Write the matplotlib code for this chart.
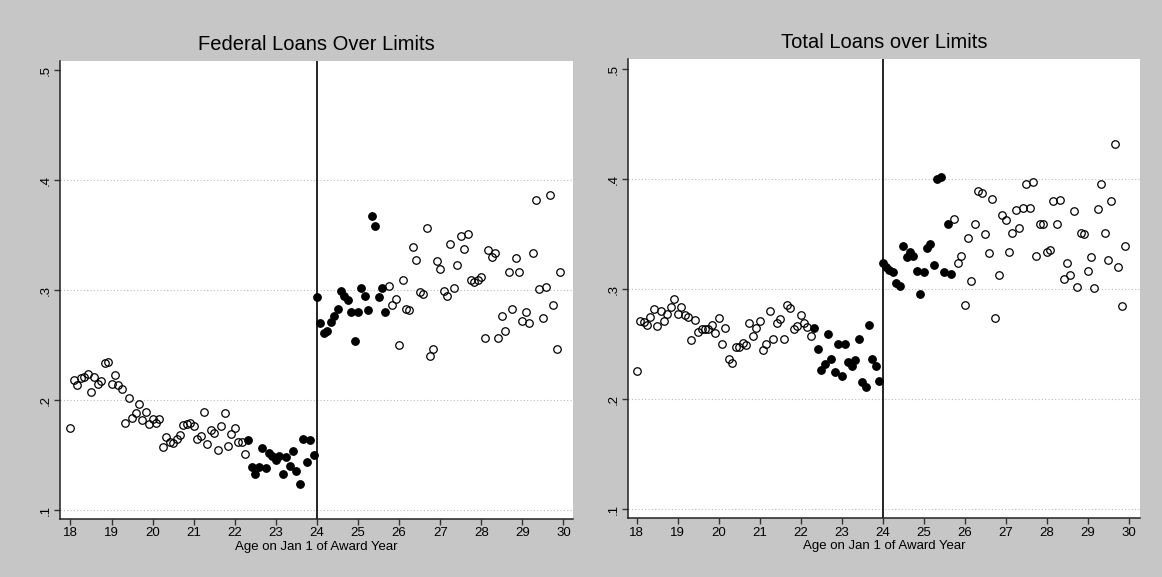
import numpy as np
import matplotlib.pyplot as plt

plt.rcParams['font.family'] = ['Liberation Sans', 'DejaVu Sans']

# monthly age bins, 18 to 30
ages = np.arange(144) / 12 + 18
cutoff = 24
window = (22.3, 25.7)   # bins inside the bandwidth are drawn solid

federal_share = [
    0.175, 0.218, 0.214, 0.220, 0.221, 0.224, 0.207, 0.221, 0.215, 0.217,
    0.234, 0.235, 0.215, 0.223, 0.214, 0.210, 0.179, 0.202, 0.184, 0.188,
    0.196, 0.182, 0.189, 0.178, 0.183, 0.179, 0.183, 0.157, 0.166, 0.162,
    0.161, 0.165, 0.168, 0.177, 0.178, 0.179, 0.176, 0.165, 0.167, 0.189,
    0.160, 0.173, 0.170, 0.155, 0.176, 0.188, 0.158, 0.169, 0.175, 0.162,
    0.162, 0.151, 0.164, 0.139, 0.133, 0.139, 0.156, 0.138, 0.152, 0.149,
    0.145, 0.149, 0.133, 0.148, 0.140, 0.154, 0.135, 0.124, 0.165, 0.144,
    0.164, 0.150, 0.294, 0.270, 0.261, 0.263, 0.271, 0.276, 0.283, 0.299,
    0.295, 0.291, 0.280, 0.254, 0.280, 0.302, 0.295, 0.282, 0.367, 0.358,
    0.294, 0.302, 0.280, 0.304, 0.286, 0.292, 0.250, 0.309, 0.283, 0.282,
    0.339, 0.327, 0.298, 0.296, 0.356, 0.240, 0.246, 0.326, 0.319, 0.299,
    0.295, 0.342, 0.302, 0.323, 0.349, 0.337, 0.351, 0.309, 0.307, 0.309,
    0.312, 0.256, 0.336, 0.330, 0.334, 0.256, 0.276, 0.263, 0.316, 0.283,
    0.329, 0.316, 0.272, 0.280, 0.270, 0.334, 0.382, 0.301, 0.275, 0.303,
    0.386, 0.286, 0.246, 0.316,
]

total_share = [
    0.226, 0.271, 0.270, 0.268, 0.275, 0.282, 0.267, 0.280, 0.271, 0.278,
    0.284, 0.291, 0.278, 0.284, 0.277, 0.275, 0.254, 0.272, 0.261, 0.264,
    0.264, 0.264, 0.268, 0.260, 0.274, 0.250, 0.265, 0.237, 0.233, 0.248,
    0.248, 0.251, 0.249, 0.269, 0.258, 0.265, 0.271, 0.245, 0.250, 0.280,
    0.255, 0.269, 0.273, 0.255, 0.286, 0.283, 0.264, 0.267, 0.277, 0.269,
    0.266, 0.258, 0.265, 0.246, 0.227, 0.232, 0.259, 0.237, 0.225, 0.250,
    0.221, 0.250, 0.234, 0.230, 0.236, 0.255, 0.216, 0.211, 0.268, 0.237,
    0.230, 0.217, 0.324, 0.320, 0.318, 0.316, 0.306, 0.303, 0.339, 0.329,
    0.334, 0.330, 0.317, 0.296, 0.316, 0.338, 0.341, 0.322, 0.400, 0.402,
    0.316, 0.359, 0.314, 0.364, 0.324, 0.330, 0.286, 0.347, 0.308, 0.359,
    0.389, 0.388, 0.350, 0.333, 0.382, 0.274, 0.313, 0.368, 0.363, 0.334,
    0.351, 0.372, 0.356, 0.374, 0.396, 0.374, 0.398, 0.330, 0.359, 0.359,
    0.334, 0.336, 0.380, 0.359, 0.381, 0.309, 0.324, 0.313, 0.371, 0.302,
    0.351, 0.350, 0.317, 0.329, 0.301, 0.373, 0.396, 0.351, 0.327, 0.380,
    0.432, 0.320, 0.285, 0.339,
]

x_ticks = list(range(18, 31))
y_ticks = [0.1, 0.2, 0.3, 0.4, 0.5]
y_tick_labels = ['.1', '.2', '.3', '.4', '.5']

fig = plt.figure(figsize=(11.62, 5.77), dpi=100)
fig.patch.set_facecolor('#c6c6c6')


def draw_panel(ax, share, title, xlim, ylim):
    share = np.array(share)
    inside = (ages > window[0]) & (ages < window[1])

    ax.set_facecolor('white')
    for v in y_ticks[:-1]:
        ax.axhline(v, color='#bdbdbd', lw=0.8, ls=(0, (1, 2)), zorder=1)
    ax.axvline(cutoff, color='black', lw=1.2, zorder=2)

    ax.plot(ages[~inside], share[~inside], 'o', ms=5.4, mfc='none',
            mec='black', mew=0.9, zorder=3)
    ax.plot(ages[inside], share[inside], 'o', ms=5.4, mfc='black',
            mec='black', mew=0.9, zorder=3)

    ax.set_xlim(*xlim)
    ax.set_ylim(*ylim)
    ax.set_xticks(x_ticks)
    ax.set_yticks(y_ticks)
    ax.set_yticklabels(y_tick_labels, rotation=90, va='center')
    ax.tick_params(labelsize=9.5, length=4, width=1, color='#333333', pad=2)
    ax.spines['top'].set_visible(False)
    ax.spines['right'].set_visible(False)
    for side in ('left', 'bottom'):
        ax.spines[side].set_linewidth(1.1)
        ax.spines[side].set_color('#222222')
    ax.set_xlabel('Age on Jan 1 of Award Year', fontsize=9.5, labelpad=1)
    ax.set_title(title, fontsize=14.5, pad=8)


ax_fed = fig.add_axes([0.0516, 0.1005, 0.4415, 0.7943])
ax_tot = fig.add_axes([0.5402, 0.1017, 0.4409, 0.7955])

draw_panel(ax_fed, federal_share, 'Federal Loans Over Limits',
           (17.744, 30.232), (0.0918, 0.5085))
draw_panel(ax_tot, total_share, 'Total Loans over Limits',
           (17.781, 30.28), (0.0918, 0.5091))

fig.savefig('out.png', dpi=100, facecolor=fig.get_facecolor())
